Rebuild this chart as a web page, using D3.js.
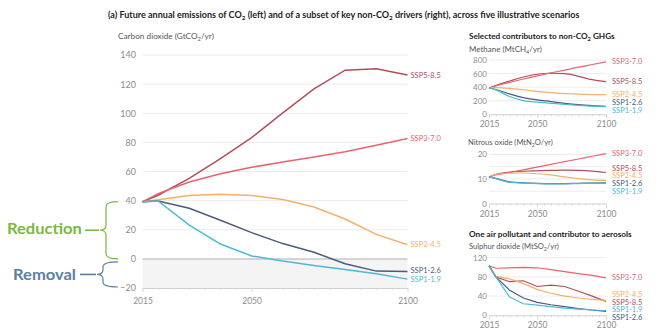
<!DOCTYPE html>
<html>
<head>
<meta charset="utf-8">
<script src="https://cdn.jsdelivr.net/npm/d3@7"></script>
<style>
  body { margin: 0; background: #fff; }
  text { font-family: Lato, "Open Sans", sans-serif; }
</style>
</head>
<body>
<script>
// years and scenarios
var years = [2015, 2020, 2030, 2040, 2050, 2060, 2070, 2080, 2090, 2100];
var scenarios = ["SSP5-8.5", "SSP3-7.0", "SSP2-4.5", "SSP1-2.6", "SSP1-1.9"];
var scenarioColors = ["#b04f5a", "#e8636e", "#f5b06a", "#4c5a7b", "#4cbad6"];

// carbon dioxide (GtCO2/yr)
var co2_585 = [39.2, 43.7, 55.3, 68.8, 83.3, 100.3, 116.8, 129.6, 130.6, 126.3];
var co2_370 = [39.2, 44.8, 52.8, 58.5, 62.9, 66.6, 70.0, 73.6, 78.0, 82.7];
var co2_245 = [39.2, 40.6, 43.6, 44.4, 43.5, 40.8, 35.6, 27.4, 16.8, 9.7];
var co2_126 = [39.2, 39.8, 34.7, 26.5, 18.0, 10.5, 4.5, -3.3, -8.4, -8.6];
var co2_119 = [39.2, 39.8, 23.2, 10.2, 2.0, -1.5, -4.5, -7.3, -10.2, -13.9];

// methane (MtCH4/yr)
var ch4_585 = [388, 425, 490, 550, 590, 605, 600, 560, 510, 480];
var ch4_370 = [388, 418, 470, 520, 565, 610, 650, 694, 734, 773];
var ch4_245 = [388, 392, 382, 362, 338, 318, 305, 296, 291, 290];
var ch4_126 = [388, 365, 300, 245, 212, 188, 162, 142, 128, 118];
var ch4_119 = [388, 360, 262, 202, 178, 162, 146, 132, 120, 112];

// nitrous oxide (MtN2O/yr)
var n2o_585 = [10.8, 11.9, 12.8, 13.1, 13.3, 13.5, 13.6, 13.5, 13.2, 12.6];
var n2o_370 = [10.8, 11.6, 12.6, 13.7, 14.8, 15.9, 17.0, 18.1, 19.2, 20.3];
var n2o_245 = [10.8, 11.8, 12.3, 12.4, 12.1, 11.6, 10.8, 10.1, 9.6, 9.4];
var n2o_126 = [10.8, 10.2, 8.8, 8.4, 8.2, 8.1, 8.1, 8.2, 8.3, 8.4];
var n2o_119 = [10.8, 10.1, 8.6, 8.3, 8.1, 8.0, 8.0, 8.1, 8.2, 8.3];

// sulphur dioxide (MtSO2/yr)
var so2_585 = [103, 80, 70, 72, 60, 63, 60, 50, 40, 29];
var so2_370 = [103, 98, 99, 100, 99, 95, 91, 87, 83, 78];
var so2_245 = [103, 81, 76, 66, 54, 46, 40, 36, 33, 31];
var so2_126 = [103, 80, 52, 36, 27, 22, 18, 14, 11, 8];
var so2_119 = [103, 80, 38, 24, 21, 18, 15, 13, 11, 10];

// tick labels
var yearTicks = [2015, 2050, 2100];
var co2Ticks = [-20, 0, 20, 40, 60, 80, 100, 120, 140];
var ch4Ticks = [0, 200, 400, 600, 800];
var n2oTicks = [0, 10, 20];
var n2oGrid = [5, 10, 15, 20];
var so2Ticks = [0, 40, 80, 120];

var svg = d3.select("body").append("svg")
    .attr("width", 672)
    .attr("height", 336);

// text with _2 style subscripts, optionally squeezed to a width
function label(g, x, y, str, size, weight, color, width) {
  var t = g.append("text")
      .attr("font-size", size)
      .attr("font-weight", weight)
      .attr("fill", color);
  var low = false;
  str.split(/_(\d)/).forEach(function(s, i) {
    if (!s) return;
    var sp = t.append("tspan").text(s);
    if (i % 2) { sp.attr("font-size", size * 0.7).attr("dy", size * 0.25); low = true; }
    else if (low) { sp.attr("dy", -size * 0.25); low = false; }
  });
  var sx = 1;
  if (width) sx = width / t.node().getComputedTextLength();
  t.attr("transform", "translate(" + x + "," + (y + size * 0.35) + ") scale(" + sx + ",1)");
  return t;
}

// spread end labels so they do not overlap
function dodge(ys, gap) {
  var idx = ys.map(function(d, i) { return i; }).sort(function(a, b) { return ys[a] - ys[b]; });
  var pos = idx.map(function(i) { return ys[i]; });
  for (var k = 0; k < 200; k++) {
    for (var j = 1; j < pos.length; j++) {
      var d = pos[j] - pos[j - 1];
      if (d < gap) { pos[j - 1] -= (gap - d) / 2; pos[j] += (gap - d) / 2; }
    }
  }
  var out = [];
  idx.forEach(function(i, j) { out[i] = pos[j]; });
  return out;
}

function panel(cfg) {
  var g = svg.append("g");
  var x = d3.scaleLinear().domain([2015, 2100]).range(cfg.xr);
  var y = d3.scaleLinear().domain(cfg.domain).range(cfg.yr);

  if (cfg.shade) {
    g.append("rect")
        .attr("x", x(2015)).attr("width", x(2100) - x(2015))
        .attr("y", y(0)).attr("height", y(cfg.domain[0]) - y(0))
        .attr("fill", "#f4f4f4");
  }

  // gridlines
  g.selectAll(".grid")
      .data(cfg.grid.filter(function(d) { return d > cfg.domain[0]; }))
    .enter().append("line")
      .attr("x1", x(2015)).attr("x2", x(2100))
      .attr("y1", function(d) { return y(d); })
      .attr("y2", function(d) { return y(d); })
      .attr("stroke", function(d) { return d === 0 ? "#c9c9c9" : "#ececec"; })
      .attr("stroke-width", function(d) { return d === 0 ? 1.5 : 1; });

  // y labels
  var ya = g.append("g")
      .attr("transform", "translate(" + cfg.ylx + ",0)")
      .call(d3.axisLeft(y).tickValues(cfg.ticks).tickSize(0).tickPadding(0));
  ya.select(".domain").remove();
  ya.selectAll("text")
      .attr("font-family", "Lato, sans-serif")
      .attr("font-size", cfg.fs)
      .attr("fill", "#8c8c8c");

  // x axis with minor ticks
  var xa = g.append("g")
      .attr("transform", "translate(0," + y(cfg.domain[0]) + ")")
      .call(d3.axisBottom(x).tickValues(d3.range(2015, 2101, 5)).tickSize(2).tickSizeOuter(0)
        .tickFormat(function(d) { return yearTicks.indexOf(d) >= 0 ? d : ""; }));
  xa.select(".domain").attr("stroke", "#cfcfcf");
  xa.selectAll(".tick line").attr("stroke", "#d6d6d6")
      .attr("y2", function(d) { return yearTicks.indexOf(d) >= 0 ? 4 : 2; });
  xa.selectAll("text")
      .attr("font-family", "Lato, sans-serif")
      .attr("font-size", cfg.xfs)
      .attr("fill", "#8c8c8c")
      .attr("dy", cfg.xdy);

  // scenario lines
  var line = d3.line()
      .x(function(d, i) { return x(years[i]); })
      .y(function(d) { return y(d); })
      .curve(cfg.curve);

  g.selectAll(".series")
      .data(cfg.series)
    .enter().append("path")
      .attr("d", line)
      .attr("fill", "none")
      .attr("stroke", function(d, i) { return scenarioColors[i]; })
      .attr("stroke-width", cfg.lw);

  var ends = dodge(cfg.series.map(function(s) { return y(s[s.length - 1]); }), cfg.gap);
  scenarios.forEach(function(name, i) {
    g.append("text")
        .attr("x", x(2100) + cfg.lpad)
        .attr("y", ends[i])
        .attr("dy", "0.35em")
        .attr("font-size", cfg.lfs)
        .attr("fill", scenarioColors[i])
        .text(name);
  });
  return y;
}

// carbon dioxide, left
var yCo2 = panel({
  xr: [142.5, 407.5], yr: [288, 55], domain: [-20, 140],
  ticks: co2Ticks, grid: co2Ticks, ylx: 136, fs: 9, xfs: 8.5, xdy: "1.35em",
  series: [co2_585, co2_370, co2_245, co2_126, co2_119],
  curve: d3.curveLinear, lw: 1.5, gap: 9, lpad: 3, lfs: 7.5, shade: true
});

// methane
panel({
  xr: [489, 606], yr: [114.3, 60], domain: [0, 800],
  ticks: ch4Ticks, grid: ch4Ticks, ylx: 487, fs: 8, xfs: 8.5, xdy: "0.95em",
  series: [ch4_585, ch4_370, ch4_245, ch4_126, ch4_119],
  curve: d3.curveMonotoneX, lw: 1.2, gap: 8, lpad: 6, lfs: 7.5
});

// nitrous oxide
panel({
  xr: [489, 606], yr: [203.5, 154.3], domain: [0, 20],
  ticks: n2oTicks, grid: n2oGrid, ylx: 487, fs: 8, xfs: 8.5, xdy: "0.95em",
  series: [n2o_585, n2o_370, n2o_245, n2o_126, n2o_119],
  curve: d3.curveMonotoneX, lw: 1.2, gap: 7.8, lpad: 6, lfs: 7.5
});

// sulphur dioxide
panel({
  xr: [489, 606], yr: [315.3, 257.7], domain: [0, 120],
  ticks: so2Ticks, grid: so2Ticks, ylx: 487, fs: 8, xfs: 8.5, xdy: "0.95em",
  series: [so2_585, so2_370, so2_245, so2_126, so2_119],
  curve: d3.curveLinear, lw: 1.2, gap: 7.8, lpad: 6, lfs: 7.5
});

// titles
label(svg, 108, 15, "(a) Future annual emissions of CO_2 (left) and of a subset of key non-CO_2 drivers (right), across five illustrative scenarios", 8.5, 700, "#222", 472);
label(svg, 118, 36, "Carbon dioxide (GtCO_2/yr)", 8.5, 400, "#555", 96);
label(svg, 469, 36, "Selected contributors to non-CO_2 GHGs", 8, 700, "#222", 146);
label(svg, 469, 49.5, "Methane (MtCH_4/yr)", 7.5, 400, "#555", 73);
label(svg, 468, 142.5, "Nitrous oxide (MtN_2O/yr)", 7.5, 400, "#555", 85);
label(svg, 469, 234, "One air pollutant and contributor to aerosols", 8, 700, "#222", 163);
label(svg, 469, 246, "Sulphur dioxide (MtSO_2/yr)", 7.5, 400, "#555", 90);

// reduction / removal braces
function brace(top, bottom, xv, tip, xEnd, color) {
  var mid = (top + bottom) / 2, r = 5;
  var p = d3.path();
  p.moveTo(xEnd, top);
  p.quadraticCurveTo(xv, top, xv, top + r);
  p.lineTo(xv, mid - r);
  p.quadraticCurveTo(xv, mid, tip, mid);
  p.quadraticCurveTo(xv, mid, xv, mid + r);
  p.lineTo(xv, bottom - r);
  p.quadraticCurveTo(xv, bottom, xEnd, bottom);
  svg.append("path").attr("d", p.toString())
      .attr("fill", "none").attr("stroke", color).attr("stroke-width", 1.2);
  return mid;
}

var green = "#7ab83f", blue = "#5b7fa1";
var mRed = brace(yCo2(40) + 1, yCo2(0), 106, 100, 118, green);
svg.append("line").attr("x1", 85).attr("x2", 99).attr("y1", mRed).attr("y2", mRed)
    .attr("stroke", green).attr("stroke-width", 1.6);
label(svg, 7, mRed - 1.5, "Reduction", 15.5, 700, green, 75);

var mRem = brace(yCo2(0) + 3, yCo2(-20) - 1, 103, 97, 118, blue);
svg.append("line").attr("x1", 80).attr("x2", 96).attr("y1", mRem).attr("y2", mRem)
    .attr("stroke", blue).attr("stroke-width", 1.6);
label(svg, 13, mRem, "Removal", 15.5, 700, blue, 63);
</script>
</body>
</html>
